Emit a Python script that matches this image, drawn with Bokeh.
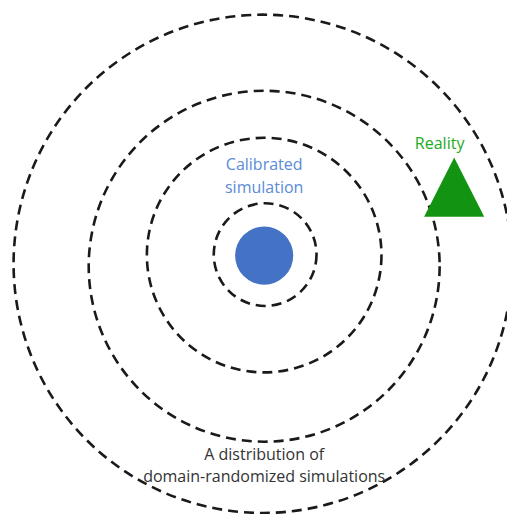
from bokeh.plotting import figure
from bokeh.models import Range1d
from bokeh.core.properties import value
from bokeh.embed import file_html
from bokeh.resources import INLINE

# Rings: distribution of domain-randomized simulations (centre x, centre y, radius) in picture pixels
ring_x = [273, 272, 272, 270.5]
ring_y = [262, 262.5, 274, 271.5]
ring_r = [53, 121, 181, 257]

# Calibrated simulation
sim_x = [272]
sim_y = [263]
sim_r = [30]

# Reality marker (triangle vertices)
real_xs = [468, 437, 499]
real_ys = [162, 223, 223]

# Labels
lab_text = ["Calibrated", "simulation", "Reality", "A distribution of", "domain-randomized simulations"]
lab_x = [272, 272, 453, 272, 272]
lab_y = [169, 192, 147, 468, 490]
lab_color = ["#5b8bd6", "#5b8bd6", "#22aa22", "#333333", "#333333"]

W, H = 507, 514
p = figure(width=W, height=H, output_backend="svg", toolbar_location=None,
           x_range=Range1d(0, 523), y_range=Range1d(530, 0),
           min_border=0, background_fill_color="white", border_fill_color="white")
p.axis.visible = False
p.grid.visible = False
p.outline_line_color = None

p.circle(x=ring_x, y=ring_y, radius=ring_r, fill_color=None, line_color="#1a1a1a",
         line_width=2.6, line_dash="10 6")
p.circle(x=sim_x, y=sim_y, radius=sim_r, fill_color="#4472c4", line_color=None)
p.patch(x=real_xs, y=real_ys, fill_color="#129412", line_color=None)

p.text(x=lab_x, y=lab_y, text=lab_text, text_color=lab_color,
       text_font=value("Open Sans"), text_font_size="16px",
       text_align="center", text_baseline="middle")

open("out.html", "w").write(file_html(p, INLINE))
